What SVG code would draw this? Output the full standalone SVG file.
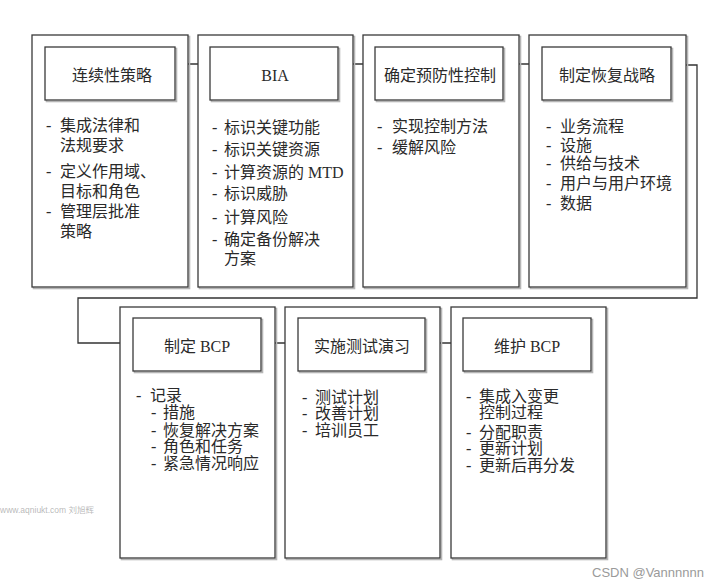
<svg xmlns="http://www.w3.org/2000/svg" width="721" height="586" viewBox="0 0 721 586">
<style>
.outer{fill:#fff;stroke:#3a3a3a;stroke-width:1.3}
.inner{fill:#fff;stroke:#3a3a3a;stroke-width:1.3}
.sh{fill:none;stroke:#b5b5b5;stroke-width:1.6}
.hd{font-family:"Liberation Serif","Noto Sans CJK SC",serif;font-size:16px;fill:#2a2a2a;text-anchor:middle}
.tx{font-family:"Liberation Serif","Noto Sans CJK SC",serif;font-size:16px;fill:#2a2a2a}
.con{fill:none;stroke:#333;stroke-width:1.3}
.wm{font-family:"Liberation Sans","Noto Sans CJK SC",sans-serif;fill:#9a9a9a}
</style>
<defs>
<marker id="ah" viewBox="0 0 10 10" refX="10" refY="5" markerWidth="10" markerHeight="10" markerUnits="userSpaceOnUse" orient="auto">
<path d="M0,1 L10,5 L0,9 Z" fill="#222"/>
</marker>
</defs>
<rect width="721" height="586" fill="#fff"/>

<g id="connectors">
<line class="con" x1="175" y1="64" x2="210" y2="64" marker-end="url(#ah)"/>
<line class="con" x1="338" y1="64" x2="375" y2="64" marker-end="url(#ah)"/>
<line class="con" x1="504" y1="64" x2="542" y2="64" marker-end="url(#ah)"/>
<polyline class="con" points="672,65 697,65 697,298 78,298 78,343 133,343" marker-end="url(#ah)"/>
<line class="con" x1="262" y1="343" x2="298" y2="343" marker-end="url(#ah)"/>
<line class="con" x1="426" y1="343" x2="463" y2="343" marker-end="url(#ah)"/>
</g>

<g id="node-continuity">
<rect class="sh" x="33.5" y="36.5" width="156" height="252"/>
<rect class="outer" x="32" y="35" width="156" height="252"/>
<rect class="sh" x="46.5" y="48.5" width="130" height="53"/>
<rect class="inner" x="45" y="47" width="130" height="53"/>
<text class="hd" x="112" y="81">连续性策略</text>
<text class="tx" x="46" y="131">-</text><text class="tx" x="60" y="131">集成法律和</text>
<text class="tx" x="60" y="151">法规要求</text>
<text class="tx" x="46" y="177">-</text><text class="tx" x="60" y="177">定义作用域、</text>
<text class="tx" x="60" y="197">目标和角色</text>
<text class="tx" x="46" y="217">-</text><text class="tx" x="60" y="217">管理层批准</text>
<text class="tx" x="60" y="237">策略</text>
</g>

<g id="node-bia">
<rect class="sh" x="199.5" y="36.5" width="155" height="252"/>
<rect class="outer" x="198" y="35" width="155" height="252"/>
<rect class="sh" x="211.5" y="48.5" width="128" height="53"/>
<rect class="inner" x="210" y="47" width="128" height="53"/>
<text class="hd" x="275" y="81">BIA</text>
<text class="tx" x="212" y="133">-</text><text class="tx" x="224" y="133">标识关键功能</text>
<text class="tx" x="212" y="155">-</text><text class="tx" x="224" y="155">标识关键资源</text>
<text class="tx" x="212" y="178">-</text><text class="tx" x="224" y="178">计算资源的 MTD</text>
<text class="tx" x="212" y="199">-</text><text class="tx" x="224" y="199">标识威胁</text>
<text class="tx" x="212" y="223">-</text><text class="tx" x="224" y="223">计算风险</text>
<text class="tx" x="212" y="245">-</text><text class="tx" x="224" y="245">确定备份解决</text>
<text class="tx" x="224" y="264">方案</text>
</g>

<g id="node-preventive">
<rect class="sh" x="364.5" y="36.5" width="156" height="252"/>
<rect class="outer" x="363" y="35" width="156" height="252"/>
<rect class="sh" x="376.5" y="48.5" width="128" height="53"/>
<rect class="inner" x="375" y="47" width="128" height="53"/>
<text class="hd" x="440" y="81">确定预防性控制</text>
<text class="tx" x="377" y="132">-</text><text class="tx" x="392" y="132">实现控制方法</text>
<text class="tx" x="377" y="153">-</text><text class="tx" x="392" y="153">缓解风险</text>
</g>

<g id="node-recovery">
<rect class="sh" x="530.5" y="36.5" width="157" height="252"/>
<rect class="outer" x="529" y="35" width="157" height="252"/>
<rect class="sh" x="543.5" y="48.5" width="129" height="53"/>
<rect class="inner" x="542" y="47" width="129" height="53"/>
<text class="hd" x="607" y="81">制定恢复战略</text>
<text class="tx" x="546" y="132">-</text><text class="tx" x="560" y="132">业务流程</text>
<text class="tx" x="546" y="151">-</text><text class="tx" x="560" y="151">设施</text>
<text class="tx" x="546" y="169">-</text><text class="tx" x="560" y="169">供给与技术</text>
<text class="tx" x="546" y="189">-</text><text class="tx" x="560" y="189">用户与用户环境</text>
<text class="tx" x="546" y="209">-</text><text class="tx" x="560" y="209">数据</text>
</g>

<g id="node-bcp">
<rect class="sh" x="121.5" y="308.5" width="155" height="251"/>
<rect class="outer" x="120" y="307" width="155" height="251"/>
<rect class="sh" x="134.5" y="319.5" width="128" height="53"/>
<rect class="inner" x="133" y="318" width="128" height="53"/>
<text class="hd" x="197" y="352">制定 BCP</text>
<text class="tx" x="136" y="401">-</text><text class="tx" x="150" y="401">记录</text>
<text class="tx" x="151" y="418">-</text><text class="tx" x="163" y="418">措施</text>
<text class="tx" x="151" y="436">-</text><text class="tx" x="163" y="436">恢复解决方案</text>
<text class="tx" x="151" y="452">-</text><text class="tx" x="163" y="452">角色和任务</text>
<text class="tx" x="151" y="469">-</text><text class="tx" x="163" y="469">紧急情况响应</text>
</g>

<g id="node-test">
<rect class="sh" x="286.5" y="308.5" width="155" height="251"/>
<rect class="outer" x="285" y="307" width="155" height="251"/>
<rect class="sh" x="299.5" y="319.5" width="127" height="53"/>
<rect class="inner" x="298" y="318" width="127" height="53"/>
<text class="hd" x="362" y="352">实施测试演习</text>
<text class="tx" x="302" y="403">-</text><text class="tx" x="315" y="403">测试计划</text>
<text class="tx" x="302" y="419">-</text><text class="tx" x="315" y="419">改善计划</text>
<text class="tx" x="302" y="436">-</text><text class="tx" x="315" y="436">培训员工</text>
</g>

<g id="node-maintain">
<rect class="sh" x="452.5" y="308.5" width="155" height="251"/>
<rect class="outer" x="451" y="307" width="155" height="251"/>
<rect class="sh" x="464.5" y="319.5" width="128" height="53"/>
<rect class="inner" x="463" y="318" width="128" height="53"/>
<text class="hd" x="527" y="352">维护 BCP</text>
<text class="tx" x="466" y="402">-</text><text class="tx" x="479" y="402">集成入变更</text>
<text class="tx" x="479" y="418">控制过程</text>
<text class="tx" x="466" y="438">-</text><text class="tx" x="479" y="438">分配职责</text>
<text class="tx" x="466" y="454">-</text><text class="tx" x="479" y="454">更新计划</text>
<text class="tx" x="466" y="471">-</text><text class="tx" x="479" y="471">更新后再分发</text>
</g>

<text class="wm" x="0" y="513" font-size="8.5" fill-opacity="0.7">www.aqniukt.com 刘旭辉</text>
<text class="wm" x="592" y="577" font-size="13">CSDN @Vannnnnn</text>
</svg>
